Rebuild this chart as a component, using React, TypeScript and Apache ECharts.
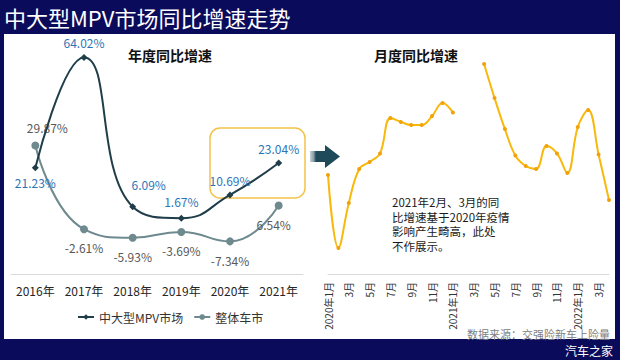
import React, { useEffect, useRef } from "react";
import * as echarts from "echarts";

const years = ["2016年", "2017年", "2018年", "2019年", "2020年", "2021年"];
const mpvGrowth = [21.23, 64.02, 6.09, 1.67, 10.69, 23.04];
const totalGrowth = [29.87, -2.61, -5.93, -3.69, -7.34, 6.54];

const months = [
  "2020年1月", "2月", "3月", "4月", "5月", "6月", "7月", "8月", "9月", "10月", "11月", "12月",
  "2021年1月", "2月", "3月", "4月", "5月", "6月", "7月", "8月", "9月", "10月", "11月", "12月",
  "2022年1月", "2月", "3月", "4月",
];
// monthly growth index (relative scale, no axis shown)
const monthlyGrowth: (number | null)[] = [
  44.0, 11.6, 31.6, 46.7, 49.8, 53.6, 69.3, 67.6, 66.2, 66.2, 70.2, 76.0,
  71.8, null, null, 93.3, 78.2, 64.4, 52.7, 48.0, 46.7, 56.9, 53.6, 44.9,
  65.3, 72.9, 53.1, 32.9,
];

const noteLines = ["2021年2月、3月的同", "比增速基于2020年疫情", "影响产生畸高，此处", "不作展示。"];

// label placement styles for the yearly series
const mpvLabelPos = [
  { position: "bottom", offset: [0, 0] },
  { position: "top", offset: [0, 0] },
  { position: "top", offset: [16, -8] },
  { position: "top", offset: [0, -2] },
  { position: "top", offset: [0, 0] },
  { position: "top", offset: [0, 0] },
];
const totalLabelPos = [
  { position: "top", offset: [12, -3] },
  { position: "bottom", offset: [0, 3] },
  { position: "bottom", offset: [0, 4] },
  { position: "bottom", offset: [0, 4] },
  { position: "bottom", offset: [0, 4] },
  { position: "bottom", offset: [-5, 4] },
];

const FONT = "'Noto Sans CJK SC', 'Noto Sans', sans-serif";
const NAVY = "#0b0b5c";

export default function App() {
  const ref = useRef<HTMLDivElement>(null);

  useEffect(() => {
    if (!ref.current) return;
    const chart = echarts.init(ref.current, undefined, { renderer: "svg" });
    const pct = (p: any) => `${Number(p.value).toFixed(2)}%`;

    const noteGraphics = noteLines.map((t, i) => ({
      type: "text",
      x: 392,
      y: 202 + i * 14.5,
      style: { text: t, fill: "#1a1a1a", fontSize: 11.5, verticalAlign: "middle", fontFamily: FONT },
    }));

    const option: any = {
      animation: false,
      backgroundColor: NAVY,
      textStyle: { fontFamily: FONT },
      legend: {
        data: ["中大型MPV市场", "整体车市"],
        left: 72,
        top: 306,
        itemWidth: 16,
        itemHeight: 7,
        itemGap: 10,
        textStyle: { fontSize: 12, color: "#333", fontFamily: FONT },
      },
      grid: [
        { left: 11, right: 317, top: 42, bottom: 86 },
        { left: 328, right: 11, top: 49, bottom: 86 },
      ],
      xAxis: [
        {
          type: "category",
          gridIndex: 0,
          data: years,
          boundaryGap: true,
          axisLine: { onZero: false, lineStyle: { color: "#d9d9d9", width: 1 } },
          axisTick: { show: false },
          axisLabel: { color: "#262626", fontSize: 12, margin: 10, interval: 0, fontFamily: FONT },
        },
        {
          type: "category",
          gridIndex: 1,
          data: months,
          boundaryGap: false,
          axisLine: { onZero: false, lineStyle: { color: "#d9d9d9", width: 1 } },
          axisTick: { show: false },
          axisLabel: {
            color: "#333",
            fontSize: 10,
            rotate: 90,
            interval: 1,
            margin: 8,
            fontFamily: FONT,
          },
        },
      ],
      yAxis: [
        { type: "value", gridIndex: 0, min: -20, max: 70, show: false },
        { type: "value", gridIndex: 1, min: 0, max: 100, show: false },
      ],
      graphic: [
        { type: "rect", z: -10, silent: true, shape: { x: 4, y: 34, width: 611, height: 305 }, style: { fill: "#ffffff" } },
        {
          type: "text", left: 4, top: 6,
          style: { text: "中大型MPV市场同比增速走势", fill: "#ffffff", fontSize: 22, fontFamily: FONT },
        },
        {
          type: "text", x: 170, y: 55,
          style: { text: "年度同比增速", fill: "#111", fontSize: 14, fontWeight: "bold", align: "center", verticalAlign: "middle", fontFamily: FONT },
        },
        {
          type: "text", x: 416, y: 55,
          style: { text: "月度同比增速", fill: "#111", fontSize: 14, fontWeight: "bold", align: "center", verticalAlign: "middle", fontFamily: FONT },
        },
        {
          type: "rect", z: 1,
          shape: { x: 210, y: 128, width: 95, height: 70, r: 10 },
          style: { fill: "none", stroke: "#f3c24a", lineWidth: 1.5 },
        },
        {
          type: "polygon",
          shape: {
            points: [[310, 151], [325, 151], [325, 145], [340, 156.5], [325, 168], [325, 162], [310, 162]],
          },
          style: {
            fill: new echarts.graphic.LinearGradient(0, 0, 1, 0, [
              { offset: 0, color: "#c5d0d5" },
              { offset: 0.12, color: "#8aa0a9" },
              { offset: 0.2, color: "#1f4a5a" },
              { offset: 1, color: "#1f4a5a" },
            ]),
          },
        },
        ...noteGraphics,
        {
          type: "text", x: 610, y: 334,
          style: { text: "数据来源：交强险新车上险量", fill: "#808080", fontSize: 11, align: "right", verticalAlign: "middle", fontFamily: FONT },
        },
        {
          type: "text", x: 613, y: 350,
          style: { text: "汽车之家", fill: "#ffffff", fontSize: 12, align: "right", verticalAlign: "middle", fontFamily: FONT },
        },
      ],
      series: [
        {
          name: "中大型MPV市场",
          type: "line",
          xAxisIndex: 0,
          yAxisIndex: 0,
          smooth: 0.5,
          symbol: "diamond",
          symbolSize: 7,
          z: 3,
          itemStyle: { color: "#1f3e4a" },
          lineStyle: { color: "#1f3e4a", width: 2 },
          data: mpvGrowth.map((v, i) => ({
            value: v,
            label: {
              show: true,
              position: mpvLabelPos[i].position,
              offset: mpvLabelPos[i].offset,
              formatter: pct,
              color: "#2e75b6",
              fontSize: 12,
              fontFamily: FONT,
            },
          })),
        },
        {
          name: "整体车市",
          type: "line",
          xAxisIndex: 0,
          yAxisIndex: 0,
          smooth: 0.5,
          symbol: "circle",
          symbolSize: 8,
          z: 2,
          itemStyle: { color: "#6e8a8f" },
          lineStyle: { color: "#6e8a8f", width: 2 },
          data: totalGrowth.map((v, i) => ({
            value: v,
            label: {
              show: true,
              position: totalLabelPos[i].position,
              offset: totalLabelPos[i].offset,
              formatter: pct,
              color: "#595959",
              fontSize: 12,
              fontFamily: FONT,
            },
          })),
        },
        {
          name: "月度同比增速",
          type: "line",
          xAxisIndex: 1,
          yAxisIndex: 1,
          smooth: 0.4,
          connectNulls: false,
          symbol: "circle",
          symbolSize: 4,
          itemStyle: { color: "#f0a20a" },
          lineStyle: { color: "#f8b80c", width: 2 },
          data: monthlyGrowth,
        },
      ],
    };

    chart.setOption(option);
    return () => chart.dispose();
  }, []);

  return (
    <div
      ref={ref}
      style={{ position: "fixed", left: 0, top: 0, width: 620, height: 360 }}
    />
  );
}
